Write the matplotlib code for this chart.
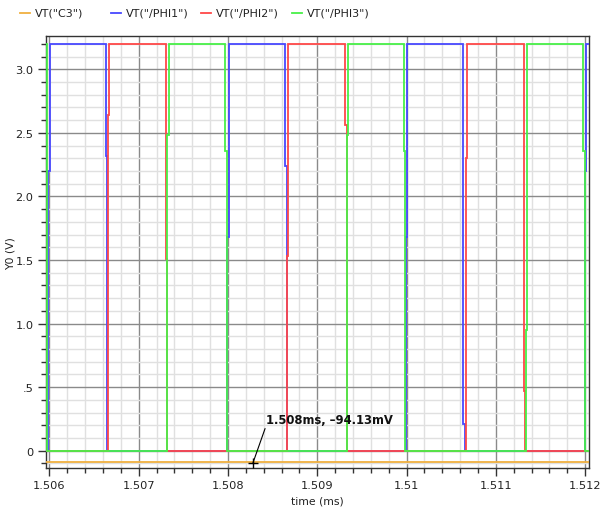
import matplotlib
matplotlib.use("Agg")
import matplotlib.pyplot as plt
from matplotlib.lines import Line2D
from matplotlib.ticker import MultipleLocator, FuncFormatter

# ---- data (time in ms, voltage in V) ----
c3_t = [1.50596, 1.51204]
c3_v = [-0.091, -0.091]

phi1_t = [1.50596, 1.505984, 1.505984, 1.506007, 1.506007, 1.506634, 1.506634, 1.506648,
          1.506648, 1.507992, 1.507992, 1.508008, 1.508008, 1.508638, 1.508638, 1.508657,
          1.508657, 1.509992, 1.509992, 1.510008, 1.510008, 1.510634, 1.510634, 1.510650,
          1.510650, 1.511999, 1.511999, 1.512009, 1.512009, 1.51204]
phi1_v = [0, 0, 2.2, 2.2, 3.2, 3.2, 2.32, 2.32,
          0, 0, 1.68, 1.68, 3.2, 3.2, 2.24, 2.24,
          0, 0, 1.68, 1.68, 3.2, 3.2, 0.21, 0.21,
          0, 0, 2.2, 2.2, 3.2, 3.2]

phi2_t = [1.50596, 1.506660, 1.506660, 1.506671, 1.506671, 1.507302, 1.507302, 1.507313,
          1.507313, 1.508664, 1.508664, 1.508675, 1.508675, 1.509310, 1.509310, 1.509329,
          1.509329, 1.510664, 1.510664, 1.510675, 1.510675, 1.511310, 1.511310, 1.511329,
          1.511329, 1.51204]
phi2_v = [0, 0, 2.64, 2.64, 3.2, 3.2, 1.51, 1.51,
          0, 0, 1.53, 1.53, 3.2, 3.2, 2.56, 2.56,
          0, 0, 2.3, 2.3, 3.2, 3.2, 0.47, 0.47,
          0, 0]

phi3_t = [1.50596, 1.505968, 1.505968, 1.505975, 1.505975, 1.507320, 1.507320, 1.507339,
          1.507339, 1.507966, 1.507966, 1.507985, 1.507985, 1.509336, 1.509336, 1.509347,
          1.509347, 1.509966, 1.509966, 1.509985, 1.509985, 1.511336, 1.511336, 1.511347,
          1.511347, 1.511979, 1.511979, 1.511998, 1.511998, 1.51204]
phi3_v = [3.2, 3.2, 2.4, 2.4, 0, 0, 2.48, 2.48,
          3.2, 3.2, 2.36, 2.36, 0, 0, 2.48, 2.48,
          3.2, 3.2, 2.36, 2.36, 0, 0, 0.95, 0.95,
          3.2, 3.2, 2.36, 2.36, 0, 0]

series_names = ['VT("C3")', 'VT("/PHI1")', 'VT("/PHI2")', 'VT("/PHI3")']
series_colors = ['#f0b040', '#4848ff', '#ff4848', '#48f048']

annot_t = 1.50828
annot_v = -0.09413
annot_text = "1.508ms, \u201394.13mV"

# ---- figure ----
plt.rcParams['font.family'] = ['DejaVu Sans']
fig = plt.figure(figsize=(6.04, 5.10), dpi=100)
W, H = 604, 510
ax = fig.add_axes([46 / W, 1 - 469.3 / H, (588.7 - 46) / W, (469.3 - 37.3) / H])

lw = 1.3
for (t, v), c in zip([(c3_t, c3_v), (phi1_t, phi1_v), (phi2_t, phi2_v), (phi3_t, phi3_v)],
                     series_colors):
    ax.plot(t, v, color=c, lw=lw, solid_joinstyle='miter', zorder=3)

ax.set_xlim(1.505962, 1.512039)
ax.set_ylim(-0.138, 3.26)

ax.xaxis.set_major_locator(MultipleLocator(0.001))
ax.xaxis.set_minor_locator(MultipleLocator(0.0002))
ax.yaxis.set_major_locator(MultipleLocator(0.5))
ax.yaxis.set_minor_locator(MultipleLocator(0.1))

def xfmt(x, pos):
    return f"{x:.3f}".rstrip('0').rstrip('.')

def yfmt(y, pos):
    if abs(y) < 1e-9:
        return "0"
    if abs(y - 0.5) < 1e-9:
        return ".5"
    return f"{y:.1f}"

ax.xaxis.set_major_formatter(FuncFormatter(xfmt))
ax.yaxis.set_major_formatter(FuncFormatter(yfmt))

ax.grid(which='major', color='#8a8a8a', lw=1.0, zorder=1)
ax.grid(which='minor', color='#e0e0e0', lw=1.0, zorder=0)
ax.set_axisbelow(True)

ax.tick_params(which='major', direction='out', length=6, width=1, color='#333333',
               labelsize=8.2, pad=3, labelcolor='#222222')
ax.tick_params(which='minor', direction='out', length=3.5, width=1, color='#333333')
ax.tick_params(axis='x', which='major', pad=2.5)
for s in ax.spines.values():
    s.set_color('#333333')
    s.set_linewidth(1.0)

ax.set_xlabel("time (ms)", fontsize=7.8, color='#222222')
ax.set_ylabel("Y0 (V)", fontsize=7.8, color='#222222')
ax.xaxis.set_label_coords(0.5, -0.062)
ax.yaxis.set_label_coords(-0.057, 0.5)

# annotation marker
ax.plot([annot_t], [annot_v], marker='+', color='black', ms=7, mew=1, zorder=5)
ax.annotate(annot_text, xy=(annot_t, annot_v), xytext=(1.508426, 0.22),
            fontsize=8.4, fontweight='bold', ha='left', va='baseline', color='#111111',
            arrowprops=dict(arrowstyle='-', color='black', lw=0.8, shrinkA=0, shrinkB=0,
                            relpos=(0, 0)), zorder=6)

# legend at top (fixed spacing per entry)
for i, (name, c) in enumerate(zip(series_names, series_colors)):
    x0 = 20 + i * 90.5
    y0 = 1 - 13.5 / H
    fig.add_artist(Line2D([x0 / W, (x0 + 10) / W], [y0, y0], color=c, lw=1.3))
    fig.text((x0 + 15) / W, y0, name, fontsize=8.0, va='center', ha='left', color='#222222')

fig.savefig("out.png", dpi=100, facecolor='white')
